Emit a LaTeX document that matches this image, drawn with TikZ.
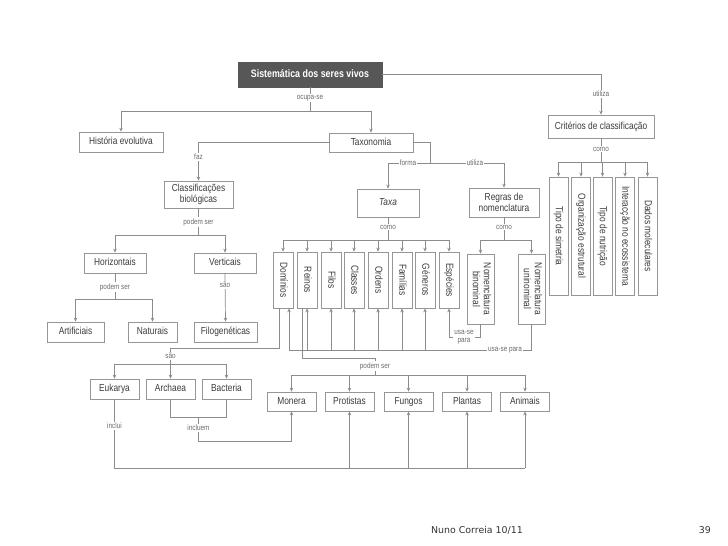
\documentclass[tikz,border=0pt]{standalone}
\usepackage{fontspec}
\usepackage{graphicx}
\usetikzlibrary{arrows.meta}
\newfontfamily\cond{Liberation Sans}[FakeStretch=0.82]
\newfontfamily\footfont{DejaVu Sans}
\definecolor{linec}{HTML}{8C8C8C}
\definecolor{boxc}{HTML}{969696}
\definecolor{txt}{HTML}{3C3C3C}
\definecolor{lbltxt}{HTML}{6A6A6A}
\definecolor{titlefill}{HTML}{575757}
\newcommand\vst{\rule[-2.5pt]{0pt}{10.5pt}}
\tikzset{
  mbox/.style={draw=boxc, line width=0.7pt, fill=white, text=txt, font=\cond\fontsize{10.2}{11.5}\selectfont,
    inner sep=1pt, minimum height=20, align=center},
  box/.style={mbox, text height=8pt, text depth=2.5pt},
  vbox/.style={mbox, minimum width=20},
  lbl/.style={fill=white, text=lbltxt, font=\cond\fontsize{7.8}{8.5}\selectfont, inner sep=1pt, align=center},
  ln/.style={draw=linec, line width=0.7pt},
  arr/.style={ln, -{Stealth[length=4pt,width=3.5pt]}},
}
\begin{document}
\begin{tikzpicture}[x=1pt,y=-1pt]
\useasboundingbox (0,0) rectangle (728,546);
% nodes
\node[box, fill=titlefill, draw=titlefill, text=white, font=\cond\bfseries\fontsize{10.8}{12}\selectfont, minimum width=144, minimum height=25] (title) at (310,74.5) {Sistemática dos seres vivos};
\node[box, minimum width=84] (hist) at (121,142) {História evolutiva};
\node[box, minimum width=84, minimum height=19] (tax) at (371,142.5) {Taxonomia};
\node[box, minimum width=106, minimum height=23] (crit) at (601,126.5) {Critérios de classificação};
\node[mbox, minimum width=69, minimum height=27, inner sep=0pt, font=\cond\fontsize{10.2}{11.3}\selectfont] (class) at (198.5,194.5) {Classificações\\biológicas};
\node[box, minimum width=62, minimum height=28] (taxa) at (388,203) {\itshape Taxa};
\node[mbox, minimum width=70, minimum height=29, inner sep=0pt, font=\cond\fontsize{10.2}{11.3}\selectfont] (regras) at (504,202.5) {Regras de\\nomenclatura};
\node[box, minimum width=62] (hor) at (115,263) {Horizontais};
\node[box, minimum width=62] (ver) at (225,263) {Verticais};
\node[box, minimum width=57] (art) at (75.5,332) {Artificiais};
\node[box, minimum width=49] (nat) at (152.5,332) {Naturais};
\node[box, minimum width=63] (filo) at (225.5,332) {Filogenéticas};
% ranks
\node[vbox, minimum height=56] (dom) at (283,280) {\rotatebox{-90}{\vst Domínios}};
\node[vbox, minimum height=56] (rei) at (307,280) {\rotatebox{-90}{\vst Reinos}};
\node[vbox, minimum height=56] (fil) at (331,280) {\rotatebox{-90}{\vst Filos}};
\node[vbox, minimum height=56] (cla) at (354,280) {\rotatebox{-90}{\vst Classes}};
\node[vbox, minimum height=56] (ord) at (378,280) {\rotatebox{-90}{\vst Ordens}};
\node[vbox, minimum height=56] (fam) at (402,280) {\rotatebox{-90}{\vst Famílias}};
\node[vbox, minimum height=56] (gen) at (425,280) {\rotatebox{-90}{\vst Géneros}};
\node[vbox, minimum height=56] (esp) at (449,280) {\rotatebox{-90}{\vst Espécies}};
\node[vbox, minimum width=27, minimum height=70, font=\cond\fontsize{10.2}{11}\selectfont] (bin) at (480.5,289) {\rotatebox{-90}{\begin{tabular}{@{}c@{}}Nomenclatura\\binominal\end{tabular}}};
\node[vbox, minimum width=27, minimum height=70, font=\cond\fontsize{10.2}{11}\selectfont] (uni) at (531.5,289) {\rotatebox{-90}{\begin{tabular}{@{}c@{}}Nomenclatura\\uninominal\end{tabular}}};
% criteria
\node[vbox, minimum width=19, minimum height=118] (c1) at (558.5,236) {\rotatebox{-90}{\vst Tipo de simetria}};
\node[vbox, minimum width=19, minimum height=118] (c2) at (581,236) {\rotatebox{-90}{\vst Organização estrutural}};
\node[vbox, minimum width=19, minimum height=118] (c3) at (602.5,236) {\rotatebox{-90}{\vst Tipo de nutrição}};
\node[vbox, minimum width=19, minimum height=118] (c4) at (625,236) {\rotatebox{-90}{\vst Interacção no ecossistema}};
\node[vbox, minimum width=19, minimum height=118] (c5) at (647.5,236) {\rotatebox{-90}{\vst Dados moleculares}};
% domains
\node[box, minimum width=49] (euk) at (114.5,389) {Eukarya};
\node[box, minimum width=49] (arc) at (170.5,389) {Archaea};
\node[box, minimum width=49] (bac) at (226.5,389) {Bacteria};
% kingdoms
\node[box, minimum width=49, minimum height=19] (mon) at (291.5,401.5) {Monera};
\node[box, minimum width=49, minimum height=19] (pro) at (349.5,401.5) {Protistas};
\node[box, minimum width=49, minimum height=19] (fun) at (408.5,401.5) {Fungos};
\node[box, minimum width=49, minimum height=19] (pla) at (467,401.5) {Plantas};
\node[box, minimum width=49, minimum height=19] (ani) at (525,401.5) {Animais};
% connectors
\draw[ln] (title.south) -- (310,111);
\draw[ln] (121,111) -- (371,111);
\draw[arr] (121,111) -- (hist.north);
\draw[arr] (371,111) -- (tax.north);
\draw[arr] (title.east) -| (crit.north);
\draw[ln] (crit.south) -- (601,162);
\draw[ln] (558.5,162) -- (647.5,162);
\foreach \n in {c1,c2,c3,c4,c5} \draw[arr] (\n.north |- 0,162) -- (\n.north);
\draw[ln] (tax.east) -| (430,163);
\draw[ln] (388,163) -- (504,163);
\draw[arr] (388,163) -- (taxa.north);
\draw[arr] (504,163) -- (regras.north);
\draw[arr] (tax.west) -| (class.north);
\draw[ln] (class.south) -- (198.5,235);
\draw[ln] (115,235) -- (225,235);
\draw[arr] (115,235) -- (hor.north);
\draw[arr] (225,235) -- (ver.north);
\draw[ln] (hor.south) -- (115,299);
\draw[ln] (75.5,299) -- (152.5,299);
\draw[arr] (75.5,299) -- (art.north);
\draw[arr] (152.5,299) -- (nat.north);
\draw[arr] (ver.south) -- (filo.north);
\draw[ln] (taxa.south) -- (388,240);
\draw[ln] (283,240) -- (449,240);
\foreach \n in {dom,rei,fil,cla,ord,fam,gen,esp} \draw[arr] (\n.north |- 0,240) -- (\n.north);
\draw[ln] (regras.south) -- (504,240);
\draw[ln] (480.5,240) -- (531.5,240);
\draw[arr] (480.5,240) -- (bin.north);
\draw[arr] (531.5,240) -- (uni.north);
% usa-se para
\draw[ln] (bin.south) |- (449,337);
\draw[arr] (449,337) -- (esp.south);
\draw[ln] (uni.south) |- (289,350);
\draw[arr] (289,350) -- (dom.south -| 289,0);
\foreach \n in {rei,fil,cla,ord,fam,gen} \draw[arr] (\n.south |- 0,350) -- (\n.south);
% domains
\draw[ln] (dom.south -| 279,0) |- (170.5,348) -- (170.5,364);
\draw[ln] (114.5,364) -- (226.5,364);
\draw[arr] (114.5,364) -- (euk.north);
\draw[arr] (170.5,364) -- (arc.north);
\draw[arr] (226.5,364) -- (bac.north);
% kingdoms
\draw[ln] (rei.south -| 302,0) |- (375,358) -- (375,375);
\draw[ln] (291.5,375) -- (525,375);
\foreach \n in {mon,pro,fun,pla,ani} \draw[arr] (\n.north |- 0,375) -- (\n.north);
\draw[ln] (arc.south) |- (226.5,417) -- (bac.south);
\draw[ln] (198.5,417) |- (291.5,441);
\draw[arr] (291.5,441) -- (mon.south);
\draw[ln] (euk.south) |- (525,468);
\foreach \n in {pro,fun,pla,ani} \draw[arr] (\n.south |- 0,468) -- (\n.south);
% labels
\node[lbl] (l1) at (310,98) {ocupa-se};
\node[lbl] (l2) at (601,94) {utiliza};
\node[lbl] (l3) at (601,149) {como};
\node[lbl] (l4) at (408,163) {forma};
\node[lbl] (l5) at (475,163) {utiliza};
\node[lbl] (l6) at (198.5,157) {faz};
\node[lbl] (l7) at (198.5,222) {podem ser};
\node[lbl] (l8) at (115,287) {podem ser};
\node[lbl] (l9) at (225,285) {são};
\node[lbl] (l10) at (388,227) {como};
\node[lbl] (l11) at (504,227) {como};
\node[lbl, font=\cond\fontsize{7.8}{8.3}\selectfont] (l12) at (464,337) {usa-se\\para};
\node[lbl] (l13) at (505,350) {usa-se para};
\node[lbl] (l14) at (170.5,356) {são};
\node[lbl] (l15) at (375,366) {podem ser};
\node[lbl] (l16) at (198.5,428) {incluem};
\node[lbl] (l17) at (114.5,426) {inclui};
% footer
\node[anchor=west, text=black!80, font=\footfont\fontsize{9.4}{11}\selectfont, inner sep=0pt] (foot) at (431,530) {Nuno Correia 10/11};
\node[anchor=east, text=black!80, font=\footfont\fontsize{9.4}{11}\selectfont, inner sep=0pt] (page) at (711,530) {39};
\end{tikzpicture}
\end{document}
